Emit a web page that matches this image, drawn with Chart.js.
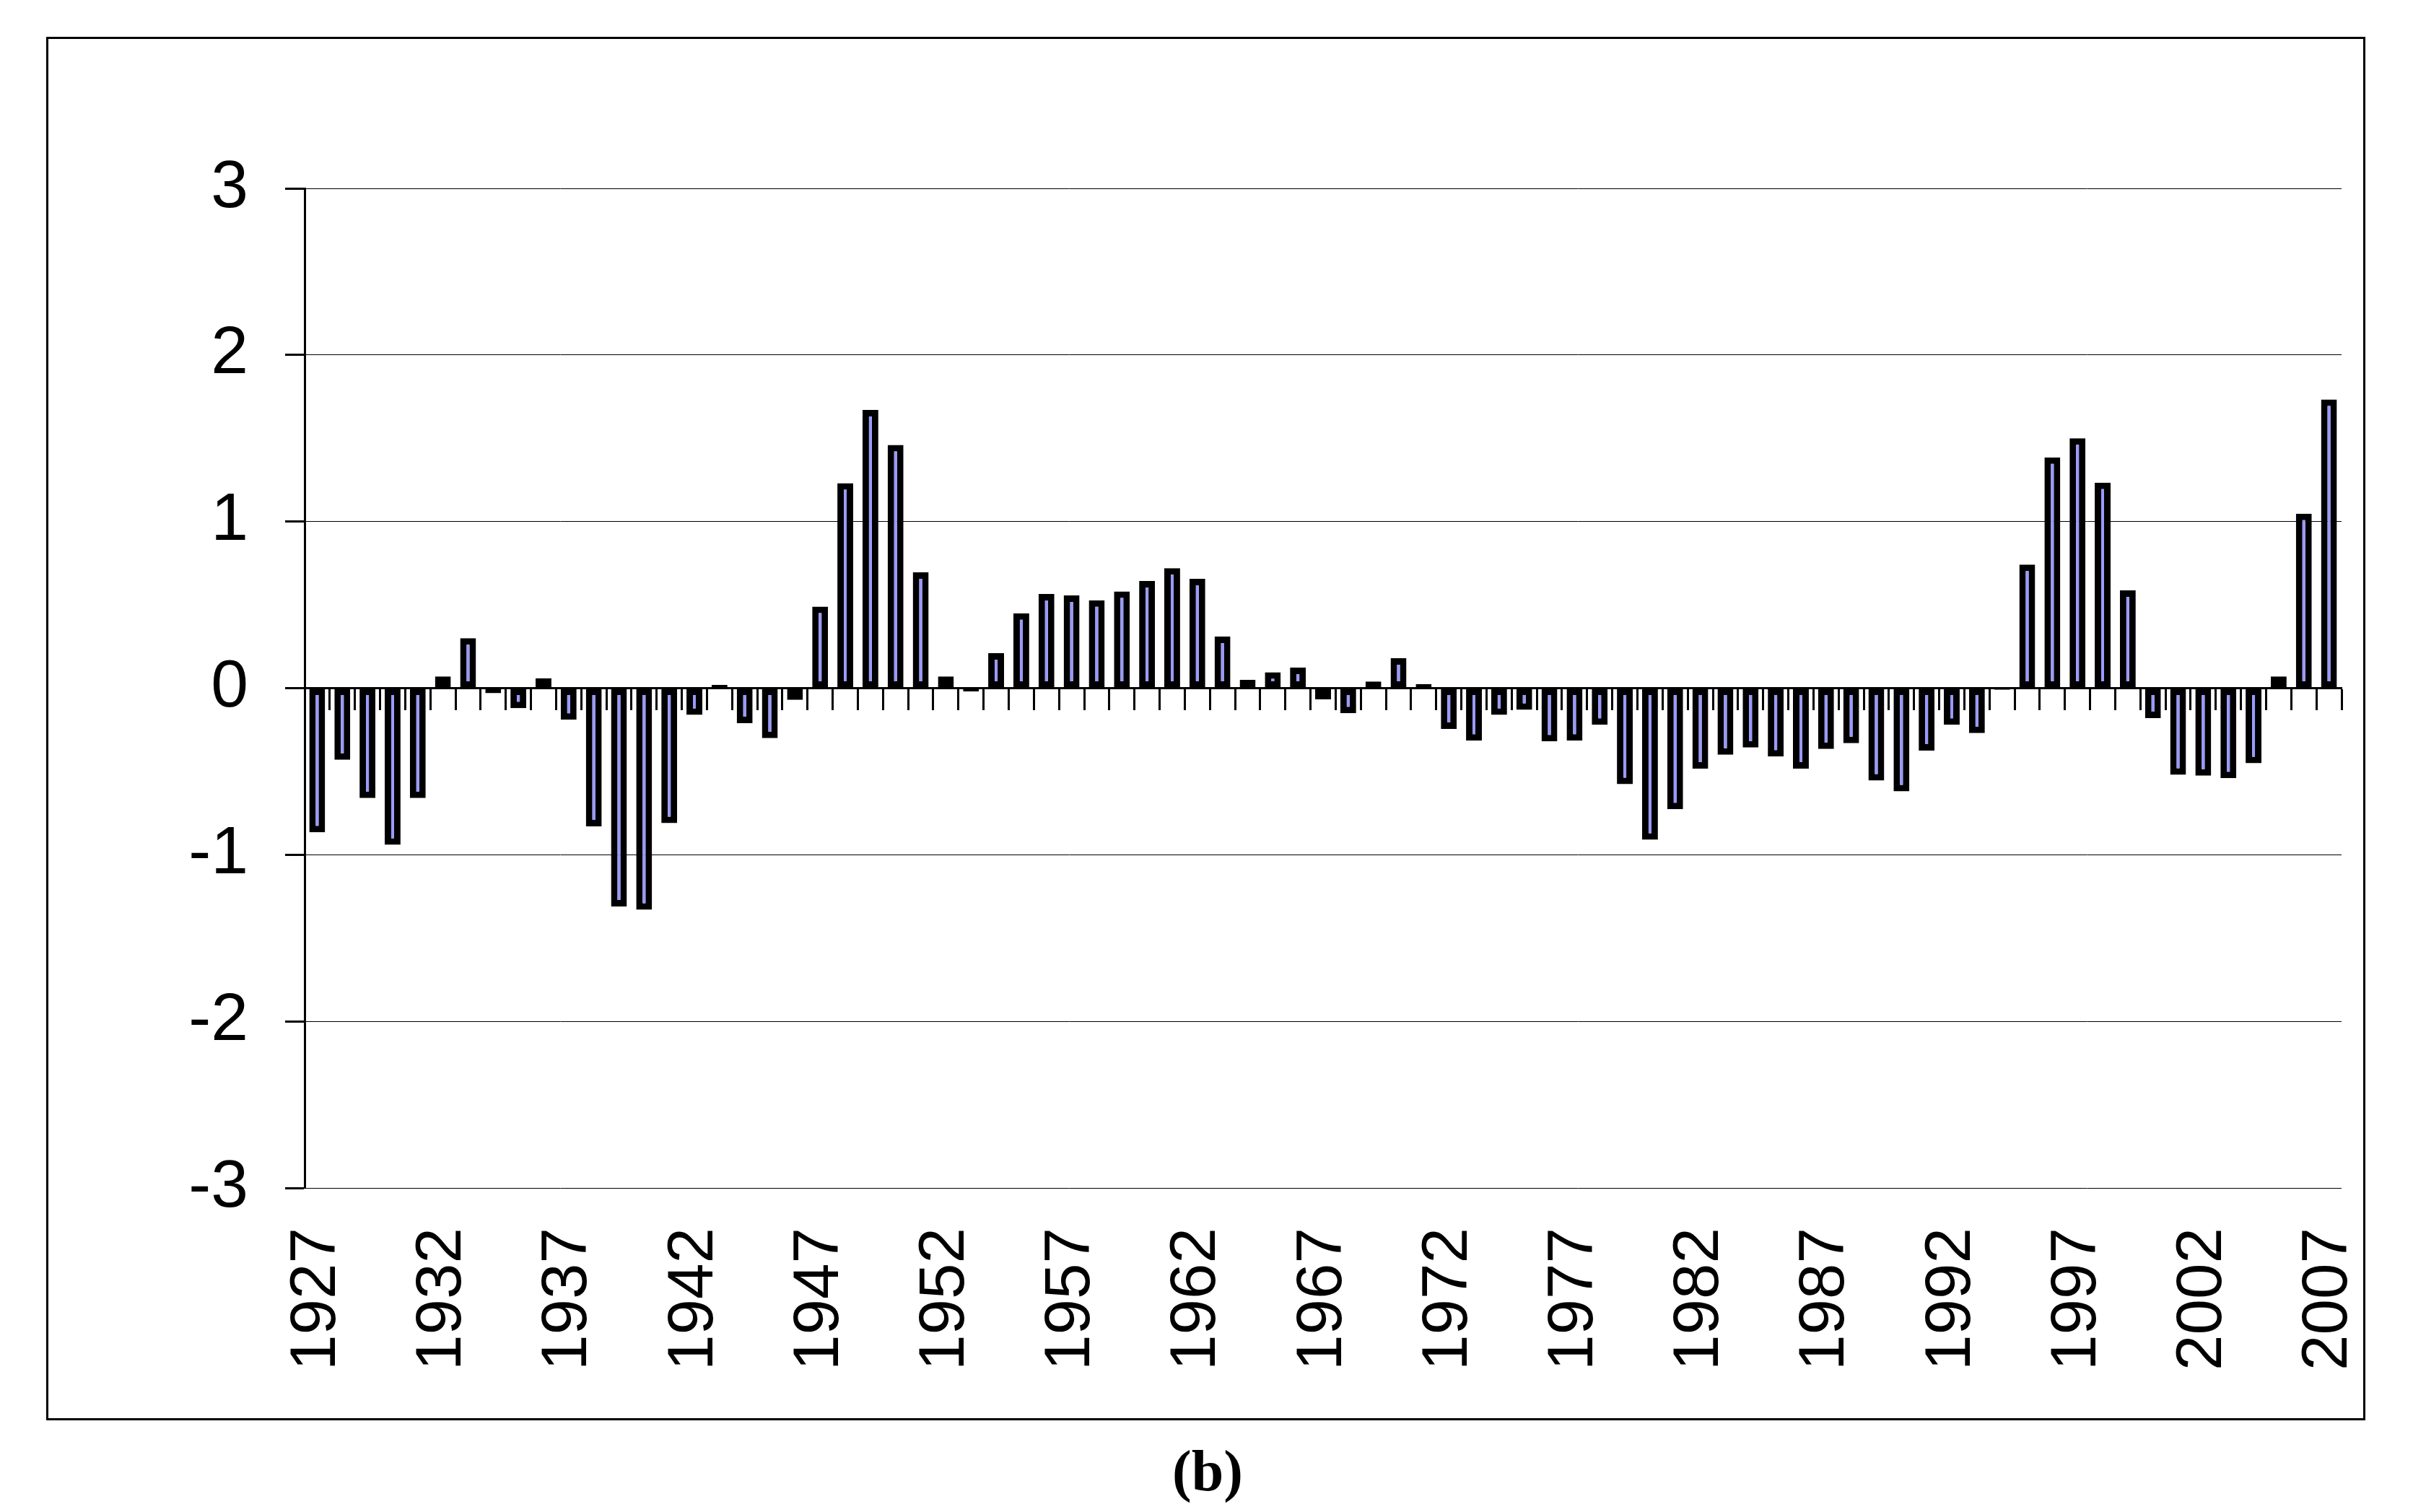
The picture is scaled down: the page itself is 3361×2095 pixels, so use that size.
<html>
<head>
  <title>Bar chart (b), 1927-2007</title>
  <style>
    body { margin: 0; background: #fff; }
    #frame {
      position: absolute; left: 64px; top: 51px;
      width: 3213px; height: 1917px;
      border: 3px solid #000; box-sizing: border-box;
    }
    canvas { position: absolute; left: 0; top: 0; }
    #caption {
      position: absolute; left: 0; width: 3346px; top: 1993px;
      text-align: center; line-height: 1;
      font: bold 80px "Liberation Serif", "Times New Roman", serif;
    }
  </style>
</head>
<body>
  <div id="frame"></div>
  <canvas id="myChart" width="3361" height="2095"></canvas>
  <div id="caption">(b)</div>

  <script src="https://cdn.jsdelivr.net/npm/chart.js@4.4.0/dist/chart.umd.min.js"></script>
  <script>
    // categories: one bar per year
    const years = [
      '1927', '1928', '1929', '1930', '1931', '1932', '1933', '1934', '1935', '1936',
      '1937', '1938', '1939', '1940', '1941', '1942', '1943', '1944', '1945', '1946',
      '1947', '1948', '1949', '1950', '1951', '1952', '1953', '1954', '1955', '1956',
      '1957', '1958', '1959', '1960', '1961', '1962', '1963', '1964', '1965', '1966',
      '1967', '1968', '1969', '1970', '1971', '1972', '1973', '1974', '1975', '1976',
      '1977', '1978', '1979', '1980', '1981', '1982', '1983', '1984', '1985', '1986',
      '1987', '1988', '1989', '1990', '1991', '1992', '1993', '1994', '1995', '1996',
      '1997', '1998', '1999', '2000', '2001', '2002', '2003', '2004', '2005', '2006',
      '2007'
    ];

    // values
    const values = [
      -0.865, -0.43, -0.66, -0.94, -0.66, 0.07, 0.30, -0.03, -0.12, 0.06,
      -0.19, -0.83, -1.31, -1.33, -0.81, -0.16, 0.02, -0.21, -0.30, -0.07,
      0.49, 1.23, 1.67, 1.46, 0.695, 0.07, -0.02, 0.21, 0.45, 0.565,
      0.557, 0.527, 0.58, 0.643, 0.72, 0.656, 0.31, 0.05, 0.095, 0.123,
      -0.067, -0.15, 0.04, 0.18, 0.025, -0.245, -0.315, -0.16, -0.13, -0.32,
      -0.315, -0.22, -0.576, -0.91, -0.727, -0.483, -0.40, -0.356, -0.41, -0.483,
      -0.365, -0.33, -0.555, -0.62, -0.375, -0.22, -0.27, -0.01, 0.742, 1.385,
      1.50, 1.234, 0.587, -0.18, -0.52, -0.525, -0.54, -0.45, 0.07, 1.047,
      1.733
    ];

    // only every fifth year gets a label
    const labelYears = ['1927', '1932', '1937', '1942', '1947', '1952', '1957', '1962', '1967',
                        '1972', '1977', '1982', '1987', '1992', '1997', '2002', '2007'];

    // keep the plot edges where the layout padding puts them
    const noSidePadding = (s) => { s.paddingLeft = 0; s.paddingRight = 0; };

    const config = {
      type: 'bar',
      data: {
        labels: years,
        datasets: [{
          data: values,
          backgroundColor: '#9999ff',
          borderColor: '#000000',
          borderWidth: 9,
          borderSkipped: false,
          barPercentage: 0.63,
          categoryPercentage: 1
        }]
      },
      options: {
        responsive: false,
        animation: false,
        layout: { padding: { left: 60, top: 261, right: 117, bottom: 149 } },
        plugins: {
          legend: { display: false },
          tooltip: { enabled: false }
        },
        scales: {
          // year labels along the bottom of the plot
          x: {
            position: 'bottom',
            offset: true,
            grid: { display: false, drawTicks: false },
            border: { display: false },
            ticks: {
              autoSkip: false,
              minRotation: 90,
              maxRotation: 90,
              padding: 55,
              color: '#000000',
              font: { family: 'Liberation Sans', size: 89 },
              callback(v) {
                const y = this.getLabelForValue(v);
                return labelYears.includes(y) ? y : '';
              }
            },
            afterFit(s) { s.height = 300; noSidePadding(s); }
          },
          // axis line with tick marks sitting on zero
          x0: {
            axis: 'x',
            type: 'category',
            position: { y: 0 },
            offset: true,
            grid: {
              offset: true,
              drawOnChartArea: false,
              drawTicks: true,
              tickLength: 29,
              tickWidth: 3,
              tickColor: '#000000',
              color: '#000000'
            },
            border: { display: true, color: '#000000', width: 3 },
            ticks: { display: false },
            afterFit(s) { s.height = 0; noSidePadding(s); }
          },
          y: {
            min: -3,
            max: 3,
            ticks: {
              stepSize: 1,
              padding: 51,
              color: '#000000',
              font: { family: 'Liberation Sans', size: 93 }
            },
            grid: {
              color: '#000000',
              lineWidth: 1,
              tickLength: 27,
              tickWidth: 3,
              tickColor: '#000000'
            },
            border: { color: '#000000', width: 3 },
            afterFit(s) { s.width = 362; }
          }
        }
      }
    };

    const ctx = document.getElementById('myChart');
    const myChart = new Chart(ctx, config);
  </script>
</body>
</html>
